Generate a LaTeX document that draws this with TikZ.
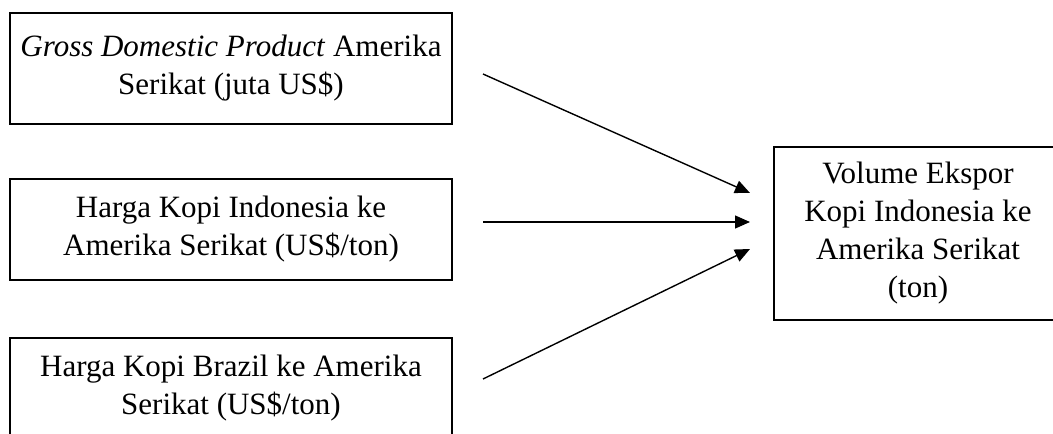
\documentclass[tikz,border=0pt]{standalone}
\usepackage{fontspec}
\setmainfont{Liberation Serif}
\usetikzlibrary{arrows.meta}
\begin{document}
\begin{tikzpicture}[x=1pt,y=-1pt,
  varbox/.style={draw=black, line width=1.5pt, align=center, inner sep=0pt,
    font=\fontsize{31}{38}\selectfont},
  link/.style={line width=1.4pt, -{Triangle[length=15pt,width=13pt]}}]
\useasboundingbox (0,0) rectangle (1053,434);
\clip (0,0) rectangle (1053,434);
\node[varbox, line width=2pt, minimum width=442pt, minimum height=111pt] (gdp) at (231,68.5)
  {\textit{Gross Domestic Product} Amerika\\Serikat (juta US\$)};
\node[varbox, minimum width=442pt, minimum height=101pt] (hki) at (231,229.5)
  {Harga Kopi Indonesia ke\\Amerika Serikat (US\$/ton)};
\node[varbox, minimum width=442pt, minimum height=100pt] (hkb) at (231,388)
  {Harga Kopi Brazil ke Amerika\\Serikat (US\$/ton)};
\node[varbox, minimum width=288pt, minimum height=173pt] (vol) at (918,233.5)
  {Volume Ekspor\\Kopi Indonesia ke\\Amerika Serikat\\(ton)};
\coordinate (s1) at (483,74);
\coordinate (s2) at (483,222);
\coordinate (s3) at (483,379);
\coordinate (t1) at (750,193);
\coordinate (t2) at (750,222);
\coordinate (t3) at (750,249);
\draw[link] (s1) -- (t1);
\draw[link] (s2) -- (t2);
\draw[link] (s3) -- (t3);
\end{tikzpicture}
\end{document}
